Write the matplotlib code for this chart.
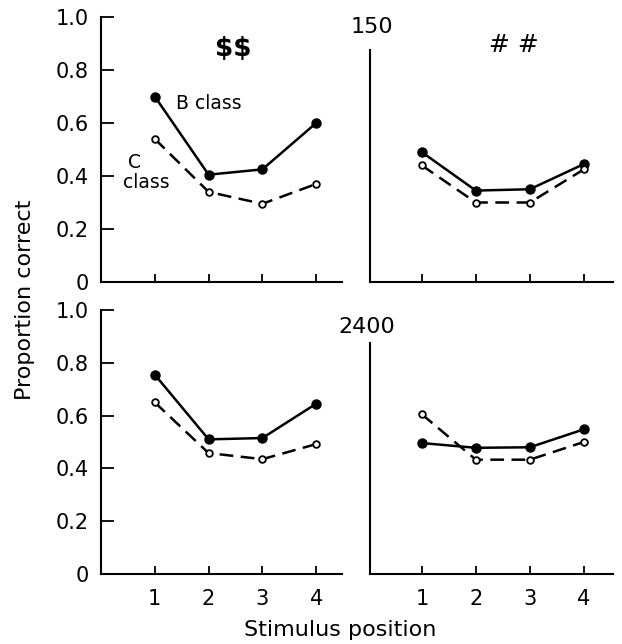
import numpy as np
import matplotlib.pyplot as plt

# stimulus positions
positions = [1, 2, 3, 4]

# proportion correct
b_150_dollar = [0.70, 0.405, 0.425, 0.60]
c_150_dollar = [0.54, 0.34, 0.295, 0.37]
b_150_hash = [0.49, 0.345, 0.35, 0.445]
c_150_hash = [0.44, 0.30, 0.30, 0.425]
b_2400_dollar = [0.755, 0.51, 0.515, 0.645]
c_2400_dollar = [0.65, 0.458, 0.435, 0.492]
b_2400_hash = [0.496, 0.478, 0.48, 0.548]
c_2400_hash = [0.605, 0.433, 0.433, 0.50]

yticks = [0, 0.2, 0.4, 0.6, 0.8, 1.0]
yticklabels = ['0', '0.2', '0.4', '0.6', '0.8', '1.0']

plt.rcParams['font.family'] = ['DejaVu Sans']

fig = plt.figure(figsize=(6.22, 6.44), dpi=100)

W, H = 622.0, 644.0
def box(x0, x1, ytop, ybot):
    return [x0 / W, 1 - ybot / H, (x1 - x0) / W, (ybot - ytop) / H]

ax_tl = fig.add_axes(box(101, 342, 17, 282))
ax_tr = fig.add_axes(box(370, 613, 17, 282))
ax_bl = fig.add_axes(box(101, 342, 310, 574))
ax_br = fig.add_axes(box(370, 613, 310, 574))

panels = [
    (ax_tl, b_150_dollar, c_150_dollar, True, False),
    (ax_tr, b_150_hash, c_150_hash, False, False),
    (ax_bl, b_2400_dollar, c_2400_dollar, True, True),
    (ax_br, b_2400_hash, c_2400_hash, False, True),
]

for ax, b, c, left, bottom in panels:
    ax.plot(positions, b, color='black', lw=1.8, marker='o', ms=6.5,
            mfc='black', mec='black')
    ax.plot(positions, c, color='black', lw=1.8, ls=(0, (5.5, 3)), marker='o',
            ms=4.8, mfc='white', mec='black', mew=1.3)
    ax.set_xlim(0 if left else 0.04, 4.48 if left else 4.54)
    ax.set_ylim(0, 1.0)
    ax.spines['top'].set_visible(False)
    ax.spines['right'].set_visible(False)
    ax.spines['left'].set_linewidth(1.5)
    ax.spines['bottom'].set_linewidth(1.5)
    ax.set_xticks(positions)
    ax.tick_params(axis='x', direction='in', length=6, width=1.3)
    if bottom:
        ax.set_xticklabels([str(p) for p in positions], fontsize=15)
        ax.tick_params(axis='x', pad=11)
    else:
        ax.set_xticklabels([])
    if left:
        ax.set_yticks(yticks)
        ax.set_yticklabels(yticklabels, fontsize=15)
        ax.tick_params(axis='y', direction='in', length=9, width=1.3, pad=9)
    else:
        ax.set_yticks([])
        ax.spines['left'].set_bounds(0, 0.875)

ax_tl.text(2.45, 0.88, r'\$\$', fontsize=19, fontweight='bold',
           ha='center', va='center')
ax_tr.text(2.7, 0.895, '# #', fontsize=18, ha='center', va='center')
ax_tl.text(1.4, 0.675, 'B class', fontsize=13.5, ha='left', va='center')
ax_tl.text(0.5, 0.45, 'C', fontsize=13.5, ha='left', va='center')
ax_tl.text(0.4, 0.375, 'class', fontsize=13.5, ha='left', va='center')

fig.text(372 / W, 1 - 27 / H, '150', fontsize=16, ha='center', va='center')
fig.text(367 / W, 1 - 327 / H, '2400', fontsize=16, ha='center', va='center')

fig.text(25 / W, 1 - 300 / H, 'Proportion correct', fontsize=16,
         rotation=90, ha='center', va='center')
fig.text(340 / W, 1 - 630 / H, 'Stimulus position', fontsize=16,
         ha='center', va='center')

fig.savefig('out.png', dpi=100)
